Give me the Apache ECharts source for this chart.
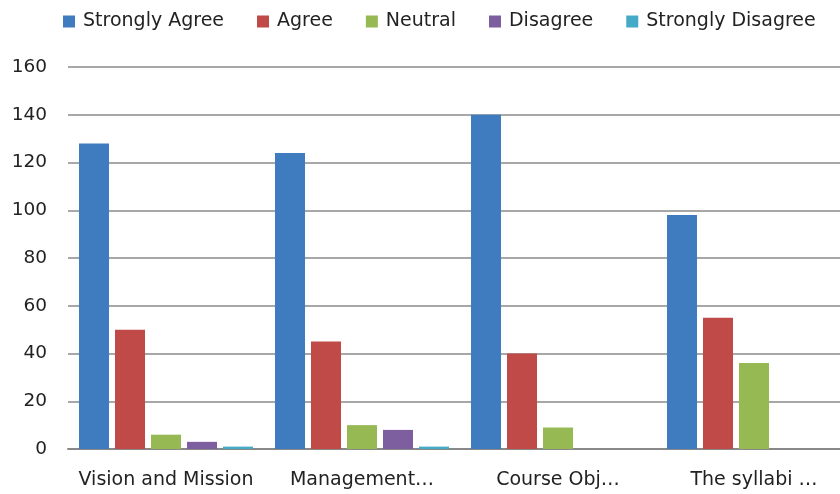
<!DOCTYPE html>
<html><head><meta charset="utf-8">
<script src="https://cdn.jsdelivr.net/npm/echarts@6/dist/echarts.min.js"></script>
<style>html,body{margin:0;padding:0;background:#fff;overflow:hidden}#c{width:852px;height:494px}</style>
</head><body><div id="c"></div>
<script>
const categories = ["Vision and Mission", "Management…", "Course Obj…", "The syllabi …"];
const seriesNames = ["Strongly Agree", "Agree", "Neutral", "Disagree", "Strongly Disagree"];
const stronglyAgree = [128, 124, 140, 98];
const agree = [50, 45, 40, 55];
const neutral = [6, 10, 9, 36];
const disagree = [3, 8, 0, 0];
const stronglyDisagree = [1, 1, 0, 0];
const colors = ["#3F7CBF", "#BF4A47", "#97B954", "#7D5FA0", "#45AAC5"];
const values = [stronglyAgree, agree, neutral, disagree, stronglyDisagree];
const font = "DejaVu Sans";
const chart = echarts.init(document.getElementById('c'));
chart.setOption({
  animation: false,
  textStyle: {fontFamily: font},
  legend: {
    left: 58, top: 7, itemWidth: 12, itemHeight: 12, itemGap: 33,
    icon: 'rect',
    textStyle: {fontSize: 19, color: '#222', fontFamily: font, padding: [0,0,0,3]},
    data: seriesNames
  },
  grid: {left: 68, top: 67, width: 784, height: 382, containLabel: false},
  xAxis: {
    type: 'category', data: categories,
    axisLine: {lineStyle: {color: '#888', width: 2}},
    axisTick: {show: false},
    axisLabel: {fontSize: 19, color: '#222', margin: 22, fontFamily: font, interval: 0}
  },
  yAxis: {
    type: 'value', min: 0, max: 160, interval: 20,
    axisLine: {show: false}, axisTick: {show: false},
    splitLine: {lineStyle: {color: '#8a8a8a', width: 1.5}},
    axisLabel: {fontSize: 18.5, color: '#222', margin: 21, fontFamily: font}
  },
  series: seriesNames.map((n, i) => ({
    name: n, type: 'bar', data: values[i],
    barWidth: 30, barGap: '20%',
    itemStyle: {color: colors[i]}
  }))
});
</script></body></html>
